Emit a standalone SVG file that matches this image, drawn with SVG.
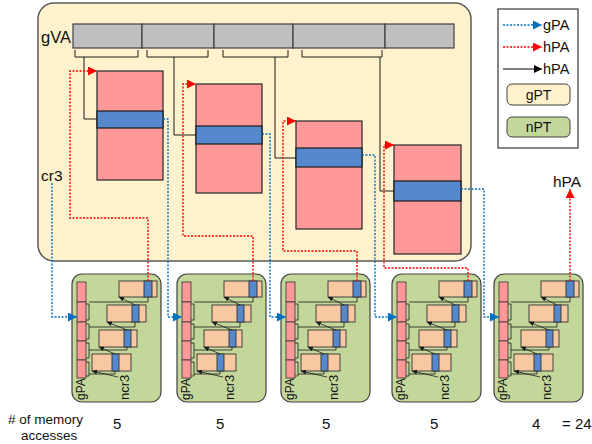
<svg xmlns="http://www.w3.org/2000/svg" width="592" height="444" viewBox="0 0 592 444">
<defs>
<style>
text{font-family:"Liberation Sans",Arial,sans-serif;fill:#111}
.yel{fill:#FFF2CC;stroke:#595959;stroke-width:1.5}
.gray{fill:#BFBFBF;stroke:#404040;stroke-width:1.2}
.pink{fill:#FF9999;stroke:#262626;stroke-width:1.2}
.blu{fill:#5588CC;stroke:#1a1a1a;stroke-width:1.2}
.grn{fill:#C4D79B;stroke:#404040;stroke-width:1.2}
.org{fill:#F8C8A0;stroke:#333;stroke-width:0.9}
.ob{fill:#5588CC;stroke:#333;stroke-width:0.9}
.cp{fill:#FF9999;stroke:#333;stroke-width:0.8}
.ln{fill:none;stroke:#1a1a1a;stroke-width:1}
.thin{fill:none;stroke:#1a1a1a;stroke-width:0.8}
.ar{fill:none;stroke:#1a1a1a;stroke-width:0.8;marker-end:url(#mk)}
.rd{fill:none;stroke:#FF0000;stroke-width:1.4;stroke-dasharray:2 1.5}
.bd{fill:none;stroke:#0070C0;stroke-width:1.4;stroke-dasharray:2 1.5}
.rda{marker-end:url(#mr)}
.bda{marker-end:url(#mb)}
.rot{font-size:12px}
.rot2{font-size:13px}
</style>
<marker id="mr" viewBox="0 0 10 10" refX="10" refY="5" markerWidth="9" markerHeight="9" markerUnits="userSpaceOnUse" orient="auto"><path d="M0,0 L10,5 L0,10 z" fill="#FF0000"/></marker>
<marker id="mb" viewBox="0 0 10 10" refX="10" refY="5" markerWidth="9" markerHeight="9" markerUnits="userSpaceOnUse" orient="auto"><path d="M0,0 L10,5 L0,10 z" fill="#0070C0"/></marker>
<marker id="mk" viewBox="0 0 10 10" refX="10" refY="5" markerWidth="5" markerHeight="5" markerUnits="userSpaceOnUse" orient="auto"><path d="M0,0 L10,5 L0,10 z" fill="#1a1a1a"/></marker>
<marker id="mkl" viewBox="0 0 10 10" refX="10" refY="5" markerWidth="8" markerHeight="8" markerUnits="userSpaceOnUse" orient="auto"><path d="M0,0 L10,5 L0,10 z" fill="#000"/></marker>
</defs>

<g id="guest">
<rect class="yel" x="38" y="3" width="433" height="258" rx="16"/>
<text x="41" y="43" font-size="16.5">gVA</text>
<text x="41" y="181" font-size="15.5">cr3</text>
</g>

<g id="gva">
<rect class="gray" x="73" y="24" width="69" height="24"/>
<rect class="gray" x="142" y="24" width="72" height="24"/>
<rect class="gray" x="214" y="24" width="79" height="24"/>
<rect class="gray" x="293" y="24" width="92" height="24"/>
<rect class="gray" x="385" y="24" width="69" height="24"/>
</g>

<g id="gpt1"><rect class="pink" x="97" y="71" width="66" height="109"/><rect class="blu" x="97" y="111" width="66" height="17"/></g>
<g id="gpt2"><rect class="pink" x="196" y="84" width="66" height="109"/><rect class="blu" x="196" y="126" width="66" height="18"/></g>
<g id="gpt3"><rect class="pink" x="296" y="121" width="66" height="108"/><rect class="blu" x="296" y="148" width="66" height="19"/></g>
<g id="gpt4"><rect class="pink" x="394" y="145" width="67" height="109"/><rect class="blu" x="394" y="181" width="67" height="20"/></g>

<g id="legend">
<rect x="498" y="9" width="80" height="139" fill="#fff" stroke="#111" stroke-width="1"/>
<path class="bd bda" d="M503,25 H542"/>
<text x="543" y="30" font-size="14.5">gPA</text>
<path class="rd rda" d="M503,47 H542"/>
<text x="543" y="52" font-size="14.5">hPA</text>
<path d="M503,69 H542" stroke="#000" stroke-width="1" fill="none" marker-end="url(#mkl)"/>
<text x="543" y="74" font-size="14.5">hPA</text>
<rect x="507" y="84" width="63" height="21" rx="5" fill="#FFF2CC" stroke="#404040" stroke-width="1"/>
<text x="538.5" y="99.5" font-size="14" text-anchor="middle">gPT</text>
<rect x="507" y="117" width="63" height="20" rx="5" fill="#C4D79B" stroke="#404040" stroke-width="1"/>
<text x="538.5" y="132" font-size="14" text-anchor="middle">nPT</text>
</g>

<g id="npt1" transform="translate(72,274)">
<rect class="grn" x="0" y="0" width="89" height="128" rx="10"/>
<rect class="cp" x="5" y="8" width="9" height="20"/><rect class="cp" x="5" y="28" width="9" height="20"/><rect class="cp" x="5" y="48" width="9" height="19"/><rect class="cp" x="5" y="67" width="9" height="19"/><rect class="cp" x="5" y="86" width="9" height="18"/>
<rect class="org" x="47" y="7" width="38" height="16"/><rect class="ob" x="72" y="7" width="8" height="16"/>
<rect class="org" x="35" y="31" width="39" height="17"/><rect class="ob" x="60" y="31" width="7" height="17"/>
<rect class="org" x="27" y="56" width="38" height="17"/><rect class="ob" x="52" y="56" width="7" height="17"/>
<rect class="org" x="20" y="80" width="39" height="17"/><rect class="ob" x="40" y="80" width="7" height="17"/>
<path class="thin" d="M14,30 H17 V46 H14 M14,50 H17 V65 H14 M14,69 H17 V84 H14 M14,88 H17 V102 H14"/>
<path class="thin" d="M17,28 H76 V23 M17,53 H63 V48 M17,76 H55 V73 M17,100 H43 V97"/>
<path class="ar" d="M63,31 L47,23"/><path class="ar" d="M55,56 L35,48"/><path class="ar" d="M43,80 L27,73"/><path class="ar" d="M46,103 L20,97"/>
<text class="rot" transform="translate(13,126) rotate(-90)">gPA</text>
<text class="rot2" transform="translate(57,126) rotate(-90)">ncr3</text>
</g>

<g id="npt2" transform="translate(177,274)">
<rect class="grn" x="0" y="0" width="89" height="128" rx="10"/>
<rect class="cp" x="5" y="8" width="9" height="20"/><rect class="cp" x="5" y="28" width="9" height="20"/><rect class="cp" x="5" y="48" width="9" height="19"/><rect class="cp" x="5" y="67" width="9" height="19"/><rect class="cp" x="5" y="86" width="9" height="18"/>
<rect class="org" x="47" y="7" width="38" height="16"/><rect class="ob" x="72" y="7" width="8" height="16"/>
<rect class="org" x="35" y="31" width="39" height="17"/><rect class="ob" x="60" y="31" width="7" height="17"/>
<rect class="org" x="27" y="56" width="38" height="17"/><rect class="ob" x="52" y="56" width="7" height="17"/>
<rect class="org" x="20" y="80" width="39" height="17"/><rect class="ob" x="40" y="80" width="7" height="17"/>
<path class="thin" d="M14,30 H17 V46 H14 M14,50 H17 V65 H14 M14,69 H17 V84 H14 M14,88 H17 V102 H14"/>
<path class="thin" d="M17,28 H76 V23 M17,53 H63 V48 M17,76 H55 V73 M17,100 H43 V97"/>
<path class="ar" d="M63,31 L47,23"/><path class="ar" d="M55,56 L35,48"/><path class="ar" d="M43,80 L27,73"/><path class="ar" d="M46,103 L20,97"/>
<text class="rot" transform="translate(13,126) rotate(-90)">gPA</text>
<text class="rot2" transform="translate(57,126) rotate(-90)">ncr3</text>
</g>

<g id="npt3" transform="translate(281,274)">
<rect class="grn" x="0" y="0" width="89" height="128" rx="10"/>
<rect class="cp" x="5" y="8" width="9" height="20"/><rect class="cp" x="5" y="28" width="9" height="20"/><rect class="cp" x="5" y="48" width="9" height="19"/><rect class="cp" x="5" y="67" width="9" height="19"/><rect class="cp" x="5" y="86" width="9" height="18"/>
<rect class="org" x="47" y="7" width="38" height="16"/><rect class="ob" x="72" y="7" width="8" height="16"/>
<rect class="org" x="35" y="31" width="39" height="17"/><rect class="ob" x="60" y="31" width="7" height="17"/>
<rect class="org" x="27" y="56" width="38" height="17"/><rect class="ob" x="52" y="56" width="7" height="17"/>
<rect class="org" x="20" y="80" width="39" height="17"/><rect class="ob" x="40" y="80" width="7" height="17"/>
<path class="thin" d="M14,30 H17 V46 H14 M14,50 H17 V65 H14 M14,69 H17 V84 H14 M14,88 H17 V102 H14"/>
<path class="thin" d="M17,28 H76 V23 M17,53 H63 V48 M17,76 H55 V73 M17,100 H43 V97"/>
<path class="ar" d="M63,31 L47,23"/><path class="ar" d="M55,56 L35,48"/><path class="ar" d="M43,80 L27,73"/><path class="ar" d="M46,103 L20,97"/>
<text class="rot" transform="translate(13,126) rotate(-90)">gPA</text>
<text class="rot2" transform="translate(57,126) rotate(-90)">ncr3</text>
</g>

<g id="npt4" transform="translate(392,274)">
<rect class="grn" x="0" y="0" width="89" height="128" rx="10"/>
<rect class="cp" x="5" y="8" width="9" height="20"/><rect class="cp" x="5" y="28" width="9" height="20"/><rect class="cp" x="5" y="48" width="9" height="19"/><rect class="cp" x="5" y="67" width="9" height="19"/><rect class="cp" x="5" y="86" width="9" height="18"/>
<rect class="org" x="47" y="7" width="38" height="16"/><rect class="ob" x="72" y="7" width="8" height="16"/>
<rect class="org" x="35" y="31" width="39" height="17"/><rect class="ob" x="60" y="31" width="7" height="17"/>
<rect class="org" x="27" y="56" width="38" height="17"/><rect class="ob" x="52" y="56" width="7" height="17"/>
<rect class="org" x="20" y="80" width="39" height="17"/><rect class="ob" x="40" y="80" width="7" height="17"/>
<path class="thin" d="M14,30 H17 V46 H14 M14,50 H17 V65 H14 M14,69 H17 V84 H14 M14,88 H17 V102 H14"/>
<path class="thin" d="M17,28 H76 V23 M17,53 H63 V48 M17,76 H55 V73 M17,100 H43 V97"/>
<path class="ar" d="M63,31 L47,23"/><path class="ar" d="M55,56 L35,48"/><path class="ar" d="M43,80 L27,73"/><path class="ar" d="M46,103 L20,97"/>
<text class="rot" transform="translate(13,126) rotate(-90)">gPA</text>
<text class="rot2" transform="translate(57,126) rotate(-90)">ncr3</text>
</g>

<g id="npt5" transform="translate(494,274)">
<rect class="grn" x="0" y="0" width="89" height="128" rx="10"/>
<rect class="cp" x="5" y="8" width="9" height="20"/><rect class="cp" x="5" y="28" width="9" height="20"/><rect class="cp" x="5" y="48" width="9" height="19"/><rect class="cp" x="5" y="67" width="9" height="19"/><rect class="cp" x="5" y="86" width="9" height="18"/>
<rect class="org" x="47" y="7" width="38" height="16"/><rect class="ob" x="72" y="7" width="8" height="16"/>
<rect class="org" x="35" y="31" width="39" height="17"/><rect class="ob" x="60" y="31" width="7" height="17"/>
<rect class="org" x="27" y="56" width="38" height="17"/><rect class="ob" x="52" y="56" width="7" height="17"/>
<rect class="org" x="20" y="80" width="39" height="17"/><rect class="ob" x="40" y="80" width="7" height="17"/>
<path class="thin" d="M14,30 H17 V46 H14 M14,50 H17 V65 H14 M14,69 H17 V84 H14 M14,88 H17 V102 H14"/>
<path class="thin" d="M17,28 H76 V23 M17,53 H63 V48 M17,76 H55 V73 M17,100 H43 V97"/>
<path class="ar" d="M63,31 L47,23"/><path class="ar" d="M55,56 L35,48"/><path class="ar" d="M43,80 L27,73"/><path class="ar" d="M46,103 L20,97"/>
<text class="rot" transform="translate(13,126) rotate(-90)">gPA</text>
<text class="rot2" transform="translate(57,126) rotate(-90)">ncr3</text>
</g>

<g id="connectors">
<path class="ln" d="M75,50 V57 H138 V50 M147,50 V57 H208 V50 M223,50 V57 H288 V50 M302,50 V57 H382 V50"/>
<path class="ln" d="M84,57 V119 H97 M174,57 V135 H196 M275,57 V158 H296 M380,57 V191 H394"/>
<path class="rd rda" d="M148,281 V218 H70 V71 H97"/>
<path class="rd rda" d="M253,281 V236 H183 V84 H196"/>
<path class="rd rda" d="M357,281 V251 H283 V121 H296"/>
<path class="rd rda" d="M468,281 V268 H384 V145 H394"/>
<path class="rd rda" d="M570,281 V189"/>
<path class="bd bda" d="M52,183 V317 H77"/>
<path class="bd bda" d="M163,119 H168 V317 H182"/>
<path class="bd bda" d="M262,134 H270 V317 H286"/>
<path class="bd bda" d="M362,155 H375 V317 H397"/>
<path class="bd bda" d="M461,189 H484 V317 H499"/>
</g>

<g id="labels">
<text x="8" y="424" font-size="13.5"># of memory</text>
<text x="21" y="440" font-size="13.5">accesses</text>
<text x="553" y="187" font-size="15.5">hPA</text>
<text x="113" y="429" font-size="15">5</text>
<text x="216" y="429" font-size="15">5</text>
<text x="322" y="429" font-size="15">5</text>
<text x="430" y="429" font-size="15">5</text>
<text x="532" y="429" font-size="15">4</text>
<text x="562" y="429" font-size="15">= 24</text>
</g>
</svg>
